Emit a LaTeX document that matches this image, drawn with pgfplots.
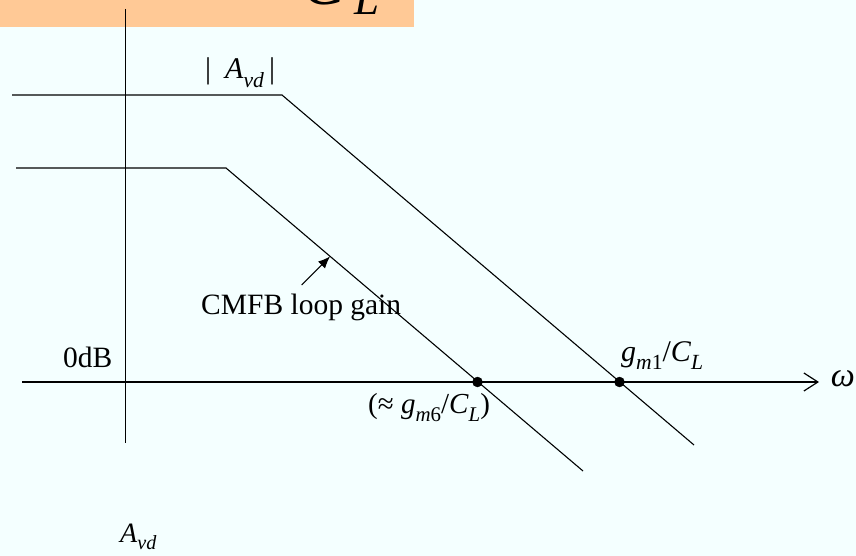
\documentclass[border=0pt]{standalone}
\usepackage{pgfplots}
\pgfplotsset{compat=1.18}
\usepackage{fontspec}
\setmainfont{Liberation Serif}
\usetikzlibrary{arrows.meta}
\definecolor{bg}{RGB}{244,255,255}
\definecolor{band}{RGB}{255,201,150}
\newcommand{\sub}[1]{\raisebox{-0.28em}{\scalebox{0.72}{#1}}}
\newcommand{\fs}[1]{\fontsize{#1}{#1}\selectfont}

\begin{document}
\begin{tikzpicture}
\begin{axis}[
  scale only axis, width=856pt, height=556pt,
  xmin=0, xmax=856, ymin=0, ymax=556, y dir=reverse,
  axis lines=none, clip=false,
]
% slide background and title band
\fill[bg] (axis cs:0,0) rectangle (axis cs:856,556);
\fill[band] (axis cs:0,0) rectangle (axis cs:414,27);
\node[anchor=base east, inner sep=0] at (axis cs:346,5) {\fs{64}\textit{C}};
\node[anchor=base west, inner sep=0] at (axis cs:354,15) {\fs{45}\textit{L}};

% gain axis and frequency axis
\addplot[line width=1.2pt, black] coordinates {(125.5,9) (125.5,443)};
\addplot[line width=1.2pt, black, -{Straight Barb[length=14pt,width=18pt,line width=1.2pt]}]
  coordinates {(22,382) (819,382)};

% differential gain |Avd|
\addplot[line width=1.1pt, black] coordinates {(12,95) (282,95) (694,445)};
% CMFB loop gain
\addplot[line width=1.1pt, black] coordinates {(16,168) (226,168) (583,471)};

% unity-gain crossings
\addplot[only marks, mark=*, mark size=5pt, mark options={fill=black, draw=black}]
  coordinates {(477.5,382) (619.5,382)};

% pointer to the CMFB curve
\addplot[line width=1.1pt, black, -{Latex[length=12pt,width=10pt]}]
  coordinates {(301.7,285) (330,256.5)};

% labels
\node[anchor=base west, inner sep=0] at (axis cs:201,314) {\fs{29.5}CMFB loop gain};
\node[anchor=base west, inner sep=0] at (axis cs:63,367) {\fs{29.5}0dB};
\node[anchor=base west, inner sep=0] at (axis cs:205,79)
  {\fs{30}|\hspace{14pt}\textit{A}\sub{\textit{vd}}\hspace{5pt}|};
\node[anchor=base west, inner sep=0] at (axis cs:621,361)
  {\fs{30}\textit{g}\sub{\textit{m}1}/\textit{C}\sub{\textit{L}}};
\node[anchor=base west, inner sep=0] at (axis cs:368,413)
  {\fs{29}(≈ \textit{g}\sub{\textit{m}6}/\textit{C}\sub{\textit{L}})};
\node[anchor=base west, inner sep=0] at (axis cs:120,542)
  {\fs{28}\textit{A}\sub{\textit{vd}}};
\node[anchor=east, inner sep=0] at (axis cs:855,379) {\fs{34}\textit{ω}};
\end{axis}
\pgfresetboundingbox
\path[use as bounding box] (current axis.south west) rectangle (current axis.north east);
\end{tikzpicture}
\end{document}
